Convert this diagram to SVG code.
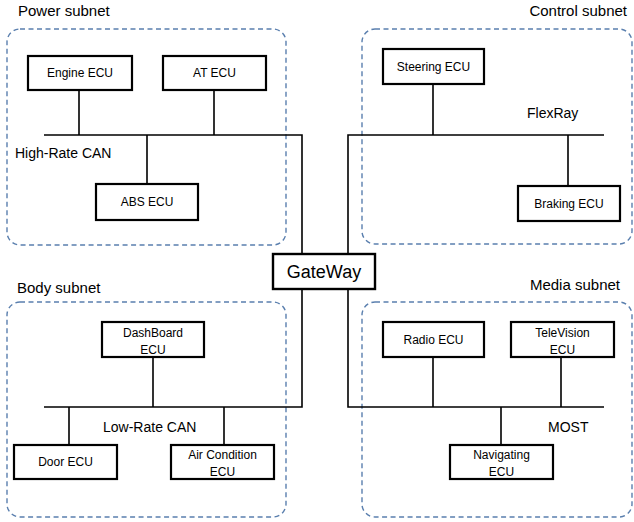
<svg xmlns="http://www.w3.org/2000/svg" width="634" height="522" viewBox="0 0 634 522">
<style>
.sub{fill:none;stroke:#5a7fae;stroke-width:1.4;stroke-dasharray:5,3.5}
.box{fill:#fff;stroke:#000;stroke-width:2.2}
.gw{fill:#fff;stroke:#000;stroke-width:2.4}
.ln{fill:none;stroke:#000;stroke-width:1.6}
text{font-family:"Liberation Sans",Arial,sans-serif;fill:#000}
.t{font-size:12px;text-anchor:middle}
.lab{font-size:15px}
.bus{font-size:14px}
</style>
<rect width="634" height="522" fill="#fff"/>
<g id="subnets">
<rect class="sub" x="7" y="29" width="279" height="216" rx="13"/>
<rect class="sub" x="362" y="29" width="270" height="215" rx="13"/>
<rect class="sub" x="7" y="302" width="279" height="215" rx="13"/>
<rect class="sub" x="362" y="302" width="270" height="215" rx="13"/>
<text class="lab" x="18" y="16">Power subnet</text>
<text class="lab" x="627" y="16" text-anchor="end">Control subnet</text>
<text class="lab" x="17" y="293">Body subnet</text>
<text class="lab" x="620" y="290" text-anchor="end">Media subnet</text>
</g>
<g id="connectors">
<path class="ln" d="M44 135H302V254M79 90V135M214 90V135M147 135V184"/>
<path class="ln" d="M348 260V135H604M433 84V135M568 135V186"/>
<path class="ln" d="M302 289V407H44M153 357V407M69 407V445M224 407V445"/>
<path class="ln" d="M348 289V407H604M433 357V407M561 357V407M501 407V445"/>
<text class="bus" x="15" y="158">High-Rate CAN</text>
<text class="bus" x="527" y="118">FlexRay</text>
<text class="bus" x="103" y="432">Low-Rate CAN</text>
<text class="bus" x="548" y="432">MOST</text>
</g>
<g id="gateway"><rect class="gw" x="273" y="254" width="102" height="35"/><text x="324" y="278" font-size="18" text-anchor="middle">GateWay</text></g>
<g id="engine"><rect class="box" x="28" y="56" width="104" height="34"/><text class="t" x="80" y="77">Engine ECU</text></g>
<g id="at"><rect class="box" x="163" y="56" width="103" height="34"/><text class="t" x="214.5" y="77">AT ECU</text></g>
<g id="abs"><rect class="box" x="96" y="184" width="102" height="36"/><text class="t" x="147" y="206">ABS ECU</text></g>
<g id="steering"><rect class="box" x="383" y="49" width="101" height="35"/><text class="t" x="433.5" y="71">Steering ECU</text></g>
<g id="braking"><rect class="box" x="518" y="186" width="102" height="35"/><text class="t" x="569" y="208">Braking ECU</text></g>
<g id="dashboard"><rect class="box" x="102" y="322" width="102" height="35"/><text class="t" x="153" y="337">DashBoard</text><text class="t" x="153" y="354">ECU</text></g>
<g id="door"><rect class="box" x="14" y="445" width="103" height="34"/><text class="t" x="65.5" y="466">Door ECU</text></g>
<g id="aircondition"><rect class="box" x="171" y="445" width="103" height="34"/><text class="t" x="222.5" y="459">Air Condition</text><text class="t" x="222.5" y="476">ECU</text></g>
<g id="radio"><rect class="box" x="383" y="322" width="101" height="35"/><text class="t" x="433.5" y="344">Radio ECU</text></g>
<g id="television"><rect class="box" x="511" y="322" width="103" height="35"/><text class="t" x="562.5" y="337">TeleVision</text><text class="t" x="562.5" y="354">ECU</text></g>
<g id="navigating"><rect class="box" x="450" y="445" width="103" height="34"/><text class="t" x="501.5" y="459">Navigating</text><text class="t" x="501.5" y="476">ECU</text></g>
</svg>
